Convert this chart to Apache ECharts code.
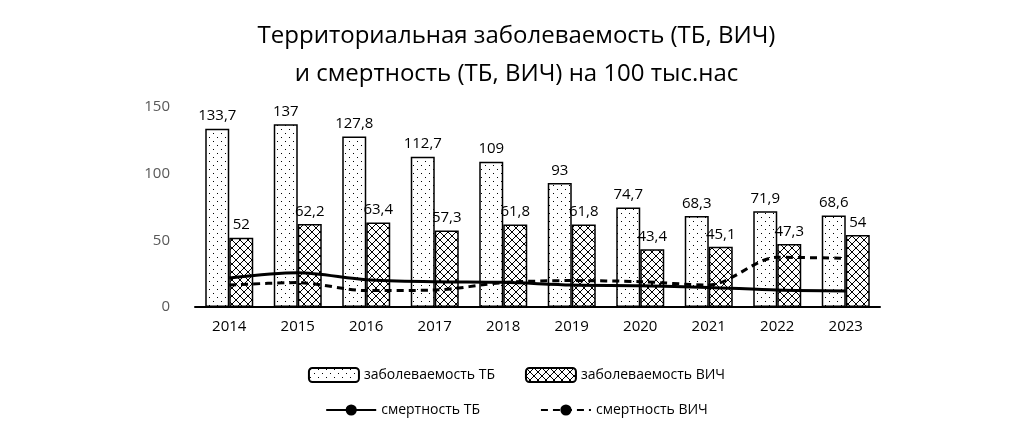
<!DOCTYPE html>
<html><head><meta charset="utf-8">
<script src="https://cdn.jsdelivr.net/npm/echarts@6/dist/echarts.min.js"></script>
<style>body{margin:0;background:#fff}#c{width:1033px;height:425px}</style>
</head><body><div id="c"></div>
<script>
const years = ['2014','2015','2016','2017','2018','2019','2020','2021','2022','2023'];
const incTB = [133.7,137,127.8,112.7,109,93,74.7,68.3,71.9,68.6];
const incHIV = [52,62.2,63.4,57.3,61.8,61.8,43.4,45.1,47.3,54];
const mortTB = [21.7,25.7,20.5,19,18.5,16.5,16,14.7,12.7,12];
const mortHIV = [16.5,18.3,12.3,12.7,18.3,19.8,19,16.5,37.3,36.5];

function dots() {
  const c = document.createElement('canvas'); c.width = 8; c.height = 8;
  const g = c.getContext('2d');
  g.fillStyle = '#fff'; g.fillRect(0,0,8,8);
  g.fillStyle = '#000'; g.fillRect(1,1,1,1); g.fillRect(5,5,1,1);
  return c;
}
function cross() {
  const c = document.createElement('canvas'); c.width = 8; c.height = 8;
  const g = c.getContext('2d');
  g.fillStyle = '#fff'; g.fillRect(0,0,8,8);
  g.strokeStyle = '#000'; g.lineWidth = 1;
  g.beginPath(); g.moveTo(0,0); g.lineTo(8,8); g.moveTo(8,0); g.lineTo(0,8); g.stroke();
  return c;
}
const fnt = 'Open Sans, Noto Sans, sans-serif';
const lbl = {show:true, position:'top', color:'#000', fontSize:15, fontFamily:fnt,
  formatter: p => String(p.value).replace('.', ',')};

echarts.init(document.getElementById('c')).setOption({
  animation:false,
  title:{text:'Территориальная заболеваемость (ТБ, ВИЧ)\nи смертность (ТБ, ВИЧ) на 100 тыс.нас', left:'center', top:12,
    textStyle:{fontSize:24, fontWeight:'normal', color:'#000', fontFamily:fnt, lineHeight:38}},
  legend:[
    {data:['заболеваемость ТБ','заболеваемость ВИЧ'], top:362, left:'center', itemGap:30, itemWidth:50, itemHeight:14,
      textStyle:{fontSize:14, color:'#000', fontFamily:fnt}},
    {data:['смертность ТБ','смертность ВИЧ'], top:398, left:'center', itemGap:60, itemWidth:50, itemHeight:14,
      textStyle:{fontSize:14, color:'#000', fontFamily:fnt}}
  ],
  grid:{left:195, right:153, top:107, bottom:118},
  xAxis:{type:'category', data:years, axisTick:{show:false},
    axisLine:{lineStyle:{color:'#000', width:2}},
    axisLabel:{color:'#000', fontSize:15, fontFamily:fnt, margin:12}},
  yAxis:{type:'value', min:0, max:150, interval:50, splitLine:{show:false},
    axisLabel:{color:'#595959', fontSize:15, fontFamily:fnt, margin:25}},
  series:[
    {name:'заболеваемость ТБ', type:'bar', data:incTB, barWidth:24, barGap:'0%',
      itemStyle:{color:{image:dots(), repeat:'repeat'}, borderColor:'#000', borderWidth:1.5}, label:lbl},
    {name:'заболеваемость ВИЧ', type:'bar', data:incHIV, barWidth:24,
      itemStyle:{color:{image:cross(), repeat:'repeat'}, borderColor:'#000', borderWidth:1.5}, label:lbl},
    {name:'смертность ТБ', type:'line', data:mortTB, smooth:0.3, symbol:'none',
      lineStyle:{color:'#000', width:3}, itemStyle:{color:'#000'}},
    {name:'смертность ВИЧ', type:'line', data:mortHIV, smooth:0.3, symbol:'none',
      lineStyle:{color:'#000', width:3, type:[7,5]}, itemStyle:{color:'#000'}}
  ]
});
</script></body></html>
